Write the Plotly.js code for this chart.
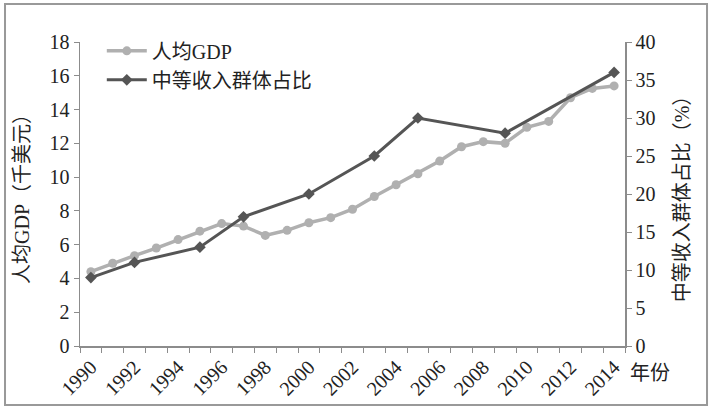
<!DOCTYPE html>
<html>
<head>
<meta charset="utf-8">
<script src="https://cdn.plot.ly/plotly-3.0.1.min.js"></script>
<style>
  html, body { margin: 0; padding: 0; background: #fff; }
  #chart { width: 714px; height: 411px; }
</style>
</head>
<body>
<div id="chart"></div>
<script>
const years = [1990, 1991, 1992, 1993, 1994, 1995, 1996, 1997, 1998, 1999, 2000, 2001, 2002,
               2003, 2004, 2005, 2006, 2007, 2008, 2009, 2010, 2011, 2012, 2013, 2014];
const gdpPerCapita = [4.4, 4.9, 5.35, 5.8, 6.3, 6.8, 7.25, 7.1, 6.55, 6.85, 7.3, 7.6, 8.1,
                      8.85, 9.55, 10.2, 10.95, 11.8, 12.1, 12.0, 12.95, 13.3, 14.7, 15.25, 15.4];
const shareYears = [1990, 1992, 1995, 1997, 2000, 2003, 2005, 2009, 2014];
const middleShare = [9, 11, 13, 17, 20, 25, 30, 28, 36];
const tickYears = [1990, 1992, 1994, 1996, 1998, 2000, 2002, 2004, 2006, 2008, 2010, 2012, 2014];

const FONT = '"Liberation Serif", "Times New Roman", "Noto Sans CJK SC", serif';
const AXIS_GREY = '#8c8c8c';
const TXT = { family: FONT, size: 20, color: '#222' };

const traces = [
    {
        x: years,
        y: gdpPerCapita,
        type: 'scatter',
        mode: 'lines+markers',
        name: '人均GDP',
        line: { color: '#b0b0b0', width: 3.5 },
        marker: { color: '#b0b0b0', size: 9, symbol: 'circle' }
    },
    {
        x: shareYears,
        y: middleShare,
        type: 'scatter',
        mode: 'lines+markers',
        name: '中等收入群体占比',
        yaxis: 'y2',
        line: { color: '#555555', width: 3 },
        marker: { color: '#555555', size: 9, symbol: 'diamond' }
    }
];

const layout = {
    width: 714,
    height: 411,
    margin: { l: 80, r: 89, t: 42, b: 65 },
    paper_bgcolor: '#fff',
    plot_bgcolor: '#fff',
    font: TXT,
    showlegend: true,
    legend: {
        x: 0.04, y: 1.035, xanchor: 'left', yanchor: 'top',
        bgcolor: 'rgba(0,0,0,0)',
        font: TXT,
        itemwidth: 40,
        tracegroupgap: 0
    },
    xaxis: {
        range: [1989.5, 2014.5],
        tickvals: tickYears,
        ticktext: tickYears.map(String),
        tickangle: -45,
        ticks: '',
        showgrid: false,
        zeroline: false,
        showline: true,
        linecolor: AXIS_GREY,
        linewidth: 1.5,
        tickfont: TXT,
        minor: { tick0: 1989.5, dtick: 1, ticks: 'outside', ticklen: 5, tickcolor: AXIS_GREY, showgrid: false }
    },
    yaxis: {
        title: { text: '人均GDP（千美元）', font: TXT, standoff: 14 },
        range: [0, 18],
        dtick: 2,
        ticks: 'outside',
        ticklen: 5,
        tickcolor: AXIS_GREY,
        showgrid: false,
        zeroline: false,
        showline: true,
        linecolor: AXIS_GREY,
        linewidth: 1.5,
        tickfont: TXT
    },
    yaxis2: {
        title: { text: '中等收入群体占比（%）', font: TXT, standoff: 20 },
        overlaying: 'y',
        side: 'right',
        range: [0, 40],
        dtick: 5,
        ticks: 'outside',
        ticklen: 5,
        tickcolor: AXIS_GREY,
        showgrid: false,
        zeroline: false,
        showline: true,
        linecolor: AXIS_GREY,
        linewidth: 1.5,
        tickfont: TXT
    },
    annotations: [
        {
            text: '年份',
            xref: 'paper', yref: 'paper',
            x: 1.006, y: -0.09,
            xanchor: 'left', yanchor: 'middle',
            showarrow: false,
            font: TXT
        }
    ],
    shapes: [
        {
            type: 'rect',
            xref: 'paper', yref: 'paper',
            x0: -0.1376, x1: 1.1505, y0: -0.194, y1: 1.125,
            line: { color: '#999', width: 2 },
            fillcolor: 'rgba(0,0,0,0)',
            layer: 'below'
        }
    ]
};

Plotly.newPlot('chart', traces, layout, { displayModeBar: false, staticPlot: true });
</script>
</body>
</html>
